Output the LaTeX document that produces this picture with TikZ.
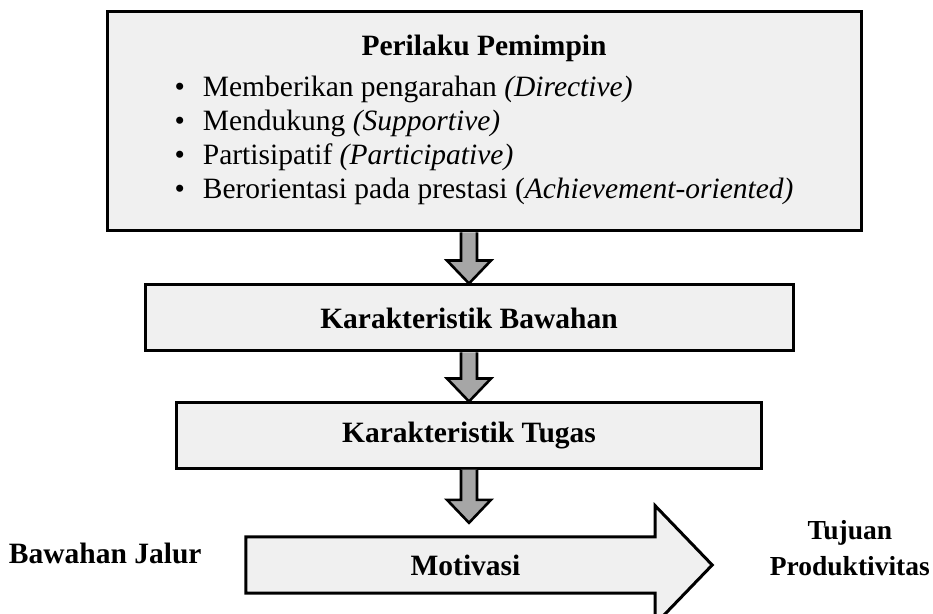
\documentclass[tikz,border=0pt]{standalone}
\usepackage{fontspec}
\setmainfont{Liberation Serif}
\usetikzlibrary{positioning, calc, backgrounds}
\definecolor{boxgray}{HTML}{F0F0F0}
\definecolor{arrgray}{HTML}{A6A6A6}
\newcommand{\bigfont}{\fontsize{29.5}{34}\selectfont}
\tikzset{
  box/.style={draw=black, line width=3pt, fill=boxgray, inner sep=0pt, align=center},
  downarr/.style={draw=black, line width=2.6pt, fill=arrgray, line join=miter},
  bigarr/.style={draw=black, line width=3pt, fill=boxgray, line join=miter},
  lbl/.style={font=\bigfont\bfseries, align=center, inner sep=0pt}
}
% thick grey block arrow, from a node down to a point
\newcommand{\blockdown}[2]{%
  \draw[downarr] ($(#1.south -| #2)+(-8,0)$) -- ($(#2)+(-8,23)$) -- ($(#2)+(-22,23)$)
    -- (#2) -- ($(#2)+(22,23)$) -- ($(#2)+(8,23)$) -- ($(#1.south -| #2)+(8,0)$);}

\begin{document}
\begin{tikzpicture}[x=1pt, y=1pt, font=\bigfont]
\useasboundingbox (0,0) rectangle (933,613);
\node[box, minimum width=754pt, minimum height=219pt] (pemimpin) at (484,491.5)
  {\textbf{Perilaku Pemimpin}\\[10pt]
   \begin{tabular}{@{}l@{\hspace{18pt}}l@{}}
   \textbullet & Memberikan pengarahan \textit{(Directive)}\\
   \textbullet & Mendukung \textit{(Supportive)}\\
   \textbullet & Partisipatif \textit{(Participative)}\\
   \textbullet & Berorientasi pada prestasi (\textit{Achievement-oriented)}
   \end{tabular}};
\node[box, font=\bigfont\bfseries, minimum width=648pt, minimum height=66pt] (bawahan) at (469,295)
  {Karakteristik Bawahan};
\node[box, font=\bigfont\bfseries, minimum width=585pt, minimum height=65pt] (tugas) at (469,177.5)
  {Karakteristik Tugas};
\node[lbl, minimum width=409pt, minimum height=56pt] (motivasi) at (450.5,48) {\hspace*{30pt}Motivasi};
\begin{scope}[on background layer]
\draw[bigarr] (motivasi.north west) -- (motivasi.north east) -- ++(0,31)
  -- ($(motivasi.east)+(57,0)$) -- ($(motivasi.south east)+(0,-31)$)
  -- (motivasi.south east) -- (motivasi.south west) -- cycle;
\end{scope}
\node[lbl, left=44pt of motivasi, yshift=12pt] (jalur) {Bawahan Jalur};
\node[lbl, font=\fontsize{27.5}{36}\selectfont\bfseries, anchor=east] (tujuan) at (930,65)
  {Tujuan\\Produktivitas};
\coordinate (tip3) at ($(motivasi.north -| tugas.south)+(0,14)$);
\blockdown{pemimpin}{bawahan.north}
\blockdown{bawahan}{tugas.north}
\blockdown{tugas}{tip3}
\end{tikzpicture}
\end{document}
